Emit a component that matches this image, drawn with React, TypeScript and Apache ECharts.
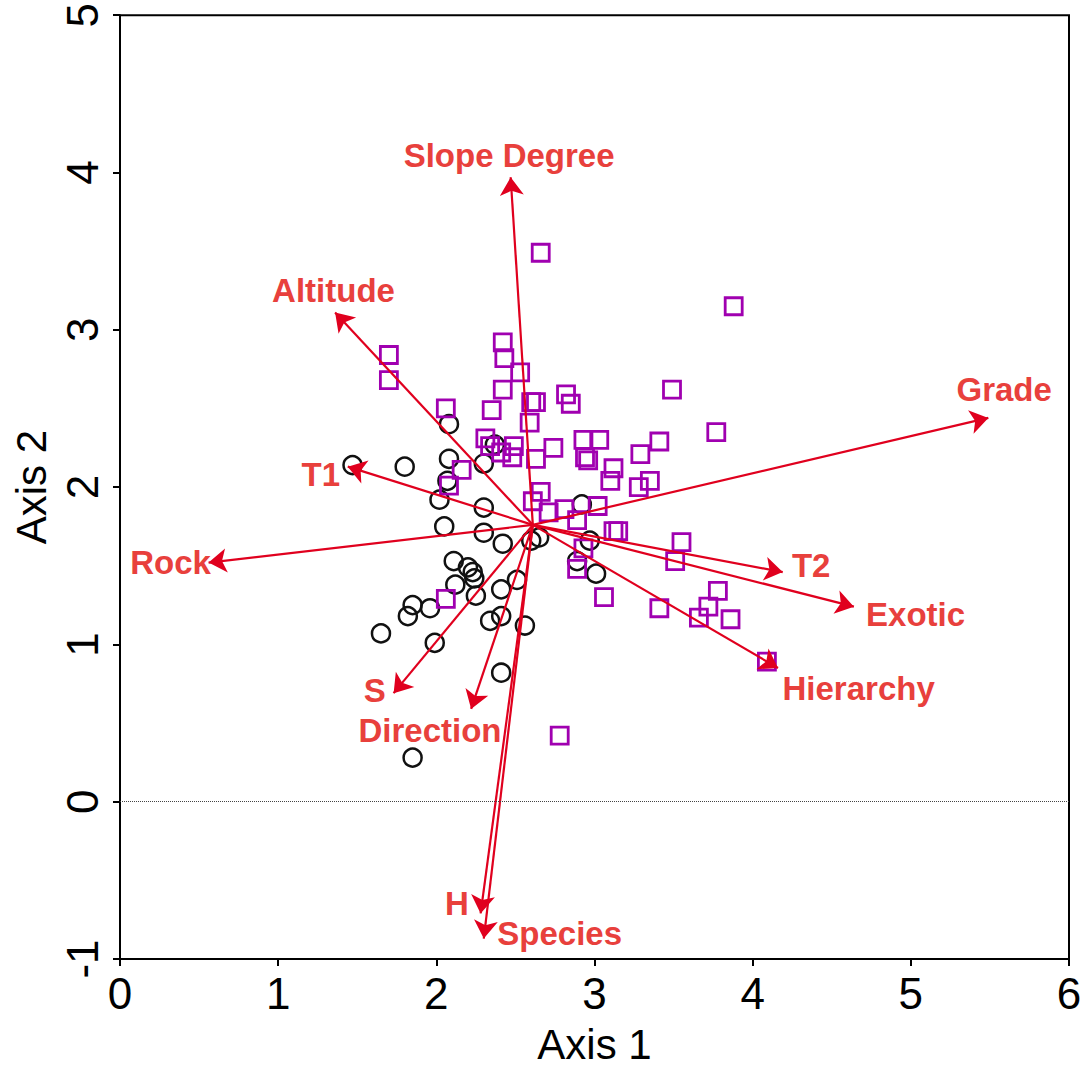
import React, { useEffect, useRef } from "react";
import * as echarts from "echarts";

// Site scores: group 1 (black circles)
const circlePoints: [number, number][] = [
  [1.47, 2.14], [1.80, 2.13], [2.08, 2.40], [2.08, 2.18], [2.07, 2.04], [2.02, 1.92],
  [2.05, 1.75], [2.30, 2.15], [2.37, 2.27], [2.30, 1.87], [2.30, 1.71], [2.42, 1.64],
  [2.60, 1.66], [2.65, 1.68], [2.11, 1.53], [2.20, 1.49], [2.23, 1.46], [2.24, 1.42],
  [2.12, 1.38], [2.25, 1.31], [2.51, 1.41], [2.41, 1.35], [1.85, 1.25], [1.82, 1.18],
  [1.96, 1.23], [1.65, 1.07], [1.99, 1.01], [2.34, 1.15], [2.41, 1.18], [2.56, 1.12],
  [2.41, 0.82], [1.85, 0.28], [2.92, 1.89], [2.97, 1.66], [2.89, 1.53], [3.01, 1.45],
];

// Site scores: group 2 (purple squares)
const squarePoints: [number, number][] = [
  [1.70, 2.84], [1.70, 2.68], [2.06, 2.50], [2.42, 2.92], [2.43, 2.82], [2.53, 2.73],
  [2.42, 2.62], [2.35, 2.49], [2.60, 2.54], [2.63, 2.54], [2.59, 2.41], [2.66, 3.49],
  [3.88, 3.15], [2.82, 2.59], [2.85, 2.53], [3.49, 2.62], [3.77, 2.35], [2.74, 2.25],
  [2.93, 2.30], [3.03, 2.30], [2.94, 2.19], [2.96, 2.17], [3.12, 2.12], [3.10, 2.04],
  [3.41, 2.29], [3.29, 2.21], [3.35, 2.04], [3.28, 2.00], [3.02, 1.88], [2.81, 1.86],
  [2.89, 1.79], [3.12, 1.72], [3.15, 1.72], [2.93, 1.61], [2.89, 1.48], [3.06, 1.30],
  [3.55, 1.65], [3.51, 1.53], [3.78, 1.34], [3.72, 1.24], [3.66, 1.17], [3.86, 1.16],
  [3.41, 1.23], [4.09, 0.89], [2.78, 0.42], [2.06, 1.29], [2.16, 2.11], [2.08, 2.01],
  [2.31, 2.31], [2.34, 2.26], [2.41, 2.22], [2.49, 2.26], [2.48, 2.19], [2.63, 2.18],
  [2.66, 1.97], [2.61, 1.91], [2.71, 1.84],
];

// Environmental vectors (biplot arrows)
const vectorOrigin: [number, number] = [2.61, 1.76];
const vectorNames = [
  "Slope Degree", "Altitude", "Grade", "T1", "Rock", "T2",
  "Exotic", "Hierarchy", "S", "Direction", "H", "Species",
];
const vectorEnds: [number, number][] = [
  [2.47, 3.97], [1.36, 3.11], [5.49, 2.44], [1.44, 2.13], [0.56, 1.52], [4.19, 1.46],
  [4.64, 1.24], [4.16, 0.85], [1.73, 0.69], [2.22, 0.59], [2.28, -0.71], [2.30, -0.87],
];
// Where each vector's label sits (data coordinates)
const labelAnchors: [number, number][] = [
  [2.46, 4.11], [1.35, 3.25], [5.59, 2.62], [1.27, 2.08], [0.32, 1.52], [4.37, 1.50],
  [5.03, 1.19], [4.67, 0.72], [1.61, 0.71], [1.96, 0.45], [2.13, -0.65], [2.78, -0.84],
];

const xTicks = [0, 1, 2, 3, 4, 5, 6];
const yTicks = [-1, 0, 1, 2, 3, 4, 5];

const FONT = "Arial, 'Liberation Sans', Helvetica, sans-serif";

export default function App() {
  const ref = useRef<HTMLDivElement>(null);

  useEffect(() => {
    if (!ref.current) return;
    const chart = echarts.init(ref.current, undefined, { renderer: "svg" });
    const option: any = {
      animation: false,
      backgroundColor: "#ffffff",
      grid: {
        left: 120,
        top: 14,
        right: 16,
        bottom: 108,
        show: true,
        borderColor: "#000",
        borderWidth: 2,
        backgroundColor: "transparent",
      },
      xAxis: {
        type: "value",
        min: xTicks[0],
        max: xTicks[xTicks.length - 1],
        interval: 1,
        name: "Axis 1",
        nameLocation: "middle",
        nameGap: 64,
        nameTextStyle: { fontFamily: FONT, fontSize: 42, color: "#000" },
        axisLine: { show: true, onZero: false, lineStyle: { color: "#000", width: 2 } },
        axisTick: { show: true, inside: false, length: 7, lineStyle: { color: "#000", width: 2 } },
        axisLabel: { fontFamily: FONT, fontSize: 44, color: "#000", margin: 12 },
        splitLine: { show: false },
      },
      yAxis: {
        type: "value",
        min: yTicks[0],
        max: yTicks[yTicks.length - 1],
        interval: 1,
        name: "Axis 2",
        nameLocation: "middle",
        nameRotate: 90,
        nameGap: 66,
        nameTextStyle: { fontFamily: FONT, fontSize: 42, color: "#000" },
        axisLine: { show: true, onZero: false, lineStyle: { color: "#000", width: 2 } },
        axisTick: { show: true, inside: false, length: 7, lineStyle: { color: "#000", width: 2 } },
        axisLabel: { fontFamily: FONT, fontSize: 44, color: "#000", rotate: 90, margin: 16 },
        splitLine: { show: false },
      },
      series: [
        {
          type: "scatter",
          name: "group1",
          symbol: "circle",
          symbolSize: 18,
          z: 3,
          itemStyle: { color: "rgba(0,0,0,0)", borderColor: "#111", borderWidth: 2.5, opacity: 1 },
          data: circlePoints,
          markLine: {
            silent: true,
            symbol: ["none", "none"],
            label: { show: false },
            lineStyle: { type: "dotted", color: "#444", width: 1 },
            data: [{ yAxis: 0 }],
          },
        },
        {
          type: "scatter",
          name: "group2",
          symbol: "rect",
          symbolSize: 17,
          z: 3,
          itemStyle: { color: "rgba(0,0,0,0)", borderColor: "#a000b0", borderWidth: 2.8, opacity: 1 },
          data: squarePoints,
        },
        {
          type: "lines",
          coordinateSystem: "cartesian2d",
          z: 4,
          symbol: ["none", "arrow"],
          symbolSize: [0, 18],
          lineStyle: { color: "#e0001e", width: 2.2, opacity: 1, curveness: 0 },
          itemStyle: { color: "#e0001e" },
          data: vectorEnds.map((e, i) => ({ name: vectorNames[i], coords: [vectorOrigin, e] })),
        },
        {
          type: "scatter",
          name: "labels",
          symbolSize: 1,
          z: 5,
          itemStyle: { color: "rgba(0,0,0,0)", opacity: 1 },
          label: {
            show: true,
            position: "inside",
            formatter: (p: any) => p.name,
            fontFamily: FONT,
            fontSize: 33,
            fontWeight: "bold",
            color: "#e8403c",
            opacity: 1,
          },
          data: labelAnchors.map((a, i) => ({ name: vectorNames[i], value: a })),
        },
      ],
    };
    chart.setOption(option);
    return () => chart.dispose();
  }, []);

  return (
    <div
      ref={ref}
      style={{ position: "fixed", left: 0, top: 0, width: 1085, height: 1070, background: "#fff" }}
    />
  );
}
